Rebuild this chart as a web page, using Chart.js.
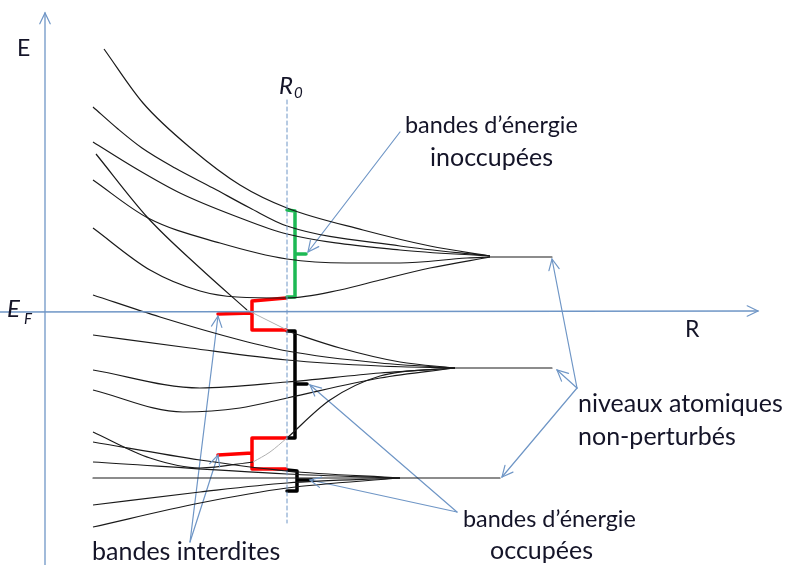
<!DOCTYPE html>
<html>
<head>
<meta charset="utf-8">
<script src="https://cdn.jsdelivr.net/npm/chart.js"></script>
<style>
  body { margin: 0; background: #fff; }
  #wrap { width: 803px; height: 565px; }
</style>
</head>
<body>
<div id="wrap"><canvas id="diagramme"></canvas></div>
<script>
// Courbes : points [R, E] (E en unités écran, axe inversé)
// bandes du haut (inoccupées)
const courbeA = [[104,49],[143,103],[193,150],[240,185],[287,208],[363,230],[430,246],[490,256]];
const courbeB = [[93,107],[118,129],[142,148],[175,168],[213,188],[250,208],[287,226],[400,246],[490,256]];
const courbeC = [[93,142],[135,168],[180,193],[235,216],[287,234],[400,250],[490,256]];
const courbeE = [[93,180],[148,218],[220,243],[287,259],[347,263],[400,263],[467,258],[490,257]];
const courbeF = [[93,228],[150,270],[200,291],[237,297],[287,298],[340,290],[380,280],[430,268],[490,257]];
// courbe qui traverse E_F
const courbeD = [[96,154],[148,218],[200,268],[247,310]];
const courbeDgris = [[247,310],[287,330]];
const courbeDfin = [[287,331],[340,348],[400,362],[455,368]];
// bandes du milieu
const courbeM1 = [[93,295],[160,317],[240,340],[287,351],[380,363],[455,368]];
const courbeM2 = [[93,335],[190,348],[287,360],[380,366],[455,368]];
const courbeM3 = [[93,370],[200,388],[287,382],[380,373],[455,368]];
const courbeM4 = [[93,390],[183,412],[240,408],[287,398],[380,378],[455,368]];
const courbeG = [[93,432],[150,458],[200,468],[253,462]];
const courbeGgris = [[253,462],[270,452],[287,438]];
const courbeGfin = [[287,438],[330,400],[380,376],[455,368]];
// bandes du bas
const courbeL1 = [[93,442],[200,460],[287,471],[400,478]];
const courbeL2 = [[93,462],[287,474],[400,478]];
const courbeL3 = [[93,478],[500,478]];
const courbeL4 = [[93,505],[200,492],[287,483],[400,478]];
const courbeL5 = [[93,527],[200,503],[287,488],[400,478]];
// niveaux atomiques non perturbés
const niveauHaut = [[490,257],[552,257]];
const niveauMilieu = [[455,368],[552,368]];

// accolades
const accoladeVerte = [[287,210],[295,211],[295,254],[306,254],[295,254],[295,297],[287,297]];
const accoladeRouge1 = [[286,298],[252,301],[252,313],[218,314],[252,313],[252,330],[286,330]];
const accoladeNoire1 = [[287,331],[295,331],[295,384],[307,384],[295,384],[295,438],[287,438]];
const accoladeRouge2 = [[286,438],[252,438],[252,453],[218,455],[252,453],[252,469],[286,469]];
const accoladeNoire2 = [[287,470],[297,471],[297,480],[312,480],[297,480],[297,491],[287,491]];

// axes et repère R0
const axeE = [[45,565],[45,13]];
const axeR = [[0,312],[758,311]];
const ligneR0 = [[287,100],[287,523]];

// flèches d'annotation : [origine, pointe]
const fleches = [
  [[400,132],[308,252]],
  [[577,388],[552,259]],
  [[577,388],[557,370]],
  [[577,388],[502,477]],
  [[457,512],[310,385]],
  [[457,512],[310,480]],
  [[190,542],[218,316]],
  [[190,542],[218,455]]
];

// textes : position gauche/ligne de base et largeur visée
const textes = [
  { t: 'bandes d\u2019énergie', x: 405, y: 133, w: 173 },
  { t: 'inoccupées', x: 430, y: 166, w: 135 },
  { t: 'niveaux atomiques', x: 578, y: 412, w: 222 },
  { t: 'non-perturbés', x: 578, y: 445, w: 172 },
  { t: 'bandes d\u2019énergie', x: 463, y: 527, w: 173 },
  { t: 'occupées', x: 490, y: 559, w: 132 },
  { t: 'bandes interdites', x: 92, y: 560, w: 200 }
];

const BLEU = '#6f96c6';
const toPts = arr => arr.map(p => ({ x: p[0], y: p[1] }));

function courbe(arr, couleur, epaisseur) {
  return { data: toPts(arr), borderColor: couleur || '#1a1a1a', borderWidth: epaisseur || 1.2,
           showLine: true, pointRadius: 0, cubicInterpolationMode: 'monotone', fill: false };
}
function trait(arr, couleur, epaisseur, dash) {
  return { data: toPts(arr), borderColor: couleur, borderWidth: epaisseur, borderDash: dash || [],
           showLine: true, pointRadius: 0, tension: 0, fill: false,
           borderJoinStyle: 'round', borderCapStyle: 'round' };
}

const datasets = [
  trait(axeE, BLEU, 1.3), trait(axeR, BLEU, 1.3), trait(ligneR0, BLEU, 1, [4, 3])
];
[courbeA, courbeB, courbeC, courbeE, courbeF, courbeD, courbeDfin,
 courbeM1, courbeM2, courbeM3, courbeM4, courbeG, courbeGfin,
 courbeL1, courbeL2, courbeL4, courbeL5].forEach(c => datasets.push(courbe(c)));
datasets.push(courbe(courbeDgris, '#b0b0b0', 1));
datasets.push(courbe(courbeGgris, '#b0b0b0', 1));
[courbeL3, niveauHaut, niveauMilieu].forEach(c => datasets.push(trait(c, '#1a1a1a', 1.2)));
fleches.forEach(f => datasets.push(trait(f, BLEU, 1.2)));
datasets.push(trait(accoladeVerte, '#1db954', 3.5));
datasets.push(trait(accoladeRouge1, '#ff0000', 3.5));
datasets.push(trait(accoladeRouge2, '#ff0000', 3.5));
datasets.push(trait(accoladeNoire1, '#000000', 3.5));
datasets.push(trait(accoladeNoire2, '#000000', 3.5));

function tete(ctx, x0, y0, x1, y1, L) {
  const a = Math.atan2(y1 - y0, x1 - x0);
  ctx.beginPath();
  ctx.moveTo(x1 - L * Math.cos(a - 0.45), y1 - L * Math.sin(a - 0.45));
  ctx.lineTo(x1, y1);
  ctx.lineTo(x1 - L * Math.cos(a + 0.45), y1 - L * Math.sin(a + 0.45));
  ctx.stroke();
}

const decor = {
  id: 'decor',
  afterDatasetsDraw(chart) {
    const ctx = chart.ctx, sx = chart.scales.x, sy = chart.scales.y;
    const px = v => sx.getPixelForValue(v), py = v => sy.getPixelForValue(v);
    ctx.save();
    ctx.strokeStyle = BLEU;
    ctx.lineWidth = 1.2;
    ctx.lineCap = 'round';
    [axeE, axeR].concat(fleches).forEach(f => {
      const a = f[f.length - 2], b = f[f.length - 1];
      tete(ctx, px(a[0]), py(a[1]), px(b[0]), py(b[1]), 12);
    });
    ctx.fillStyle = '#141428';
    ctx.textBaseline = 'alphabetic';
    textes.forEach(o => {
      ctx.font = '22px Lato';
      const taille = Math.min(25, 22 * o.w / ctx.measureText(o.t).width);
      ctx.font = taille.toFixed(1) + 'px Lato';
      ctx.fillText(o.t, px(o.x), py(o.y));
    });
    ctx.font = '23px Lato';
    ctx.fillText('E', px(17), py(56));
    ctx.fillText('R', px(685), py(337));
    // E_F et R0 en italique avec indice
    ctx.font = 'italic 24px Lato';
    ctx.fillText('E', px(7), py(317));
    ctx.fillText('R', px(279), py(94));
    ctx.font = 'italic 15px Lato';
    ctx.fillText('F', px(24), py(324));
    ctx.fillText('0', px(294), py(98));
    ctx.restore();
  }
};

new Chart(document.getElementById('diagramme'), {
  type: 'scatter',
  data: { datasets: datasets },
  options: {
    responsive: true,
    maintainAspectRatio: false,
    animation: false,
    layout: { padding: 0 },
    plugins: { legend: { display: false }, tooltip: { enabled: false } },
    scales: {
      x: { type: 'linear', min: 0, max: 803, display: false },
      y: { type: 'linear', min: 0, max: 565, reverse: true, display: false }
    }
  },
  plugins: [decor]
});
</script>
</body>
</html>
